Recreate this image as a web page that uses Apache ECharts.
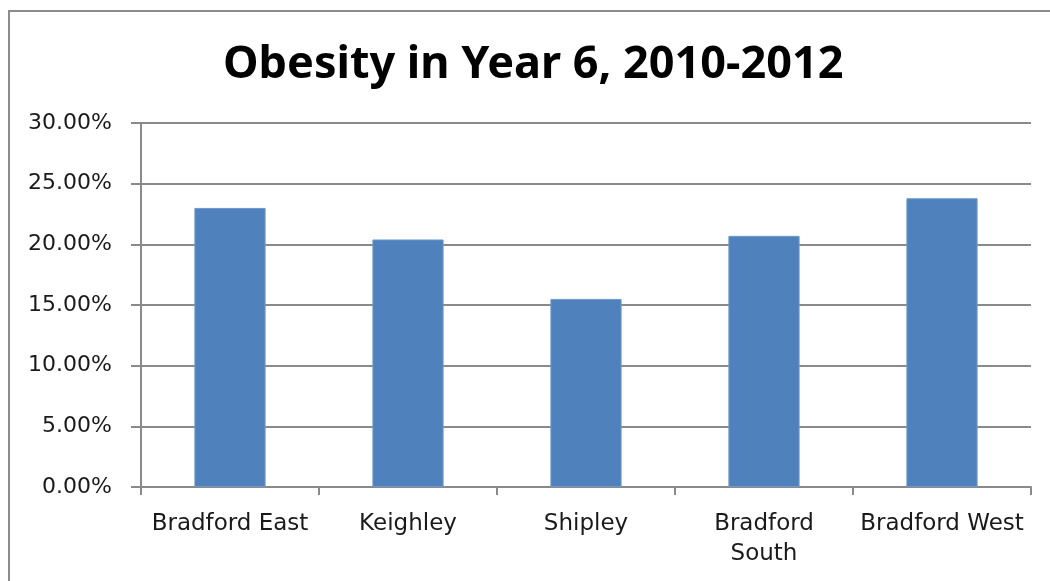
<!DOCTYPE html>
<html>
<head>
<meta charset="utf-8">
<title>Obesity in Year 6, 2010-2012</title>
<script src="https://cdn.jsdelivr.net/npm/echarts@6/dist/echarts.min.js"></script>
<style>
  html, body { margin: 0; padding: 0; background: #fff; }
  #chart { width: 1050px; height: 581px; }
</style>
</head>
<body>
<div id="chart"></div>
<script>
// Constituencies along the x axis
const categories = ['Bradford East', 'Keighley', 'Shipley', 'Bradford\nSouth', 'Bradford West'];
// Share of Year 6 children classed as obese (fraction)
const obesityRate = [0.230, 0.204, 0.155, 0.207, 0.238];
// Value axis range and step
const yMin = 0;
const yMax = 0.30;
const yStep = 0.05;

const chart = echarts.init(document.getElementById('chart'));
const gridGray = '#8a8a8a';
const labelFont = 'DejaVu Sans, Verdana, sans-serif';

chart.setOption({
  animation: false,
  backgroundColor: '#ffffff',
  title: {
    text: 'Obesity in Year 6, 2010-2012',
    left: 218,
    top: 38,
    textStyle: {
      fontFamily: 'Noto Sans, sans-serif',
      fontWeight: 'bold',
      fontSize: 45,
      color: '#000000'
    }
  },
  graphic: [{
    type: 'rect',
    shape: { x: 9, y: 11, width: 1100, height: 620 },
    style: { fill: 'none', stroke: '#8c8c8c', lineWidth: 2 },
    silent: true
  }],
  grid: { left: 141, right: 19, top: 123, bottom: 94, containLabel: false },
  xAxis: {
    type: 'category',
    data: categories,
    boundaryGap: true,
    axisLine: { show: true, lineStyle: { color: gridGray, width: 2 } },
    axisTick: { show: true, length: 8, alignWithLabel: false, lineStyle: { color: gridGray, width: 2 } },
    axisLabel: {
      interval: 0,
      margin: 22,
      fontFamily: labelFont,
      fontSize: 23,
      lineHeight: 30,
      color: '#1a1a1a'
    }
  },
  yAxis: {
    type: 'value',
    min: yMin,
    max: yMax,
    interval: yStep,
    axisLine: { show: true, lineStyle: { color: gridGray, width: 2 } },
    axisTick: { show: true, length: 10, lineStyle: { color: gridGray, width: 2 } },
    splitLine: { show: true, lineStyle: { color: gridGray, width: 2 } },
    axisLabel: {
      margin: 29,
      fontFamily: labelFont,
      fontSize: 22,
      color: '#1a1a1a',
      formatter: v => (v * 100).toFixed(2) + '%'
    }
  },
  series: [{
    type: 'bar',
    data: obesityRate,
    barWidth: '40%',
    itemStyle: { color: '#4f81bd', borderColor: '#6f99cc', borderWidth: 1 }
  }]
});
</script>
</body>
</html>
